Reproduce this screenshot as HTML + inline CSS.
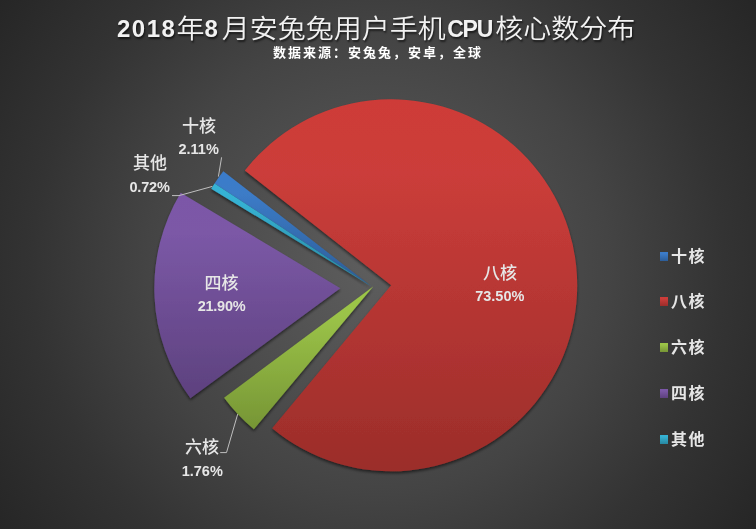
<!DOCTYPE html>
<html><head><meta charset="utf-8">
<style>
html,body{margin:0;padding:0;}
body{width:756px;height:529px;overflow:hidden;position:relative;
 background:radial-gradient(circle farthest-corner at 50% 50%, #5e5e5e 0%, #444444 50%, #333333 75%, #262626 100%);}
svg{position:absolute;left:0;top:0;}
.t{position:absolute;white-space:nowrap;line-height:1;}
.cjk{font-family:"Liberation Sans","Noto Sans CJK SC",sans-serif;}
.title{top:14px;left:117px;color:#f2f2f2;font-size:28px;font-weight:350;text-shadow:1px 2px 2px rgba(0,0,0,.6);}
.title b.d{letter-spacing:1.5px}.title b.e{letter-spacing:4px}.title b.c{margin-left:1.4px;font-size:23px;letter-spacing:-1.2px;margin-right:3px}
.title i{display:inline-block;font-style:normal;transform:translateY(1.8px) scaleY(.92);}
.title b{font-family:"Liberation Sans",sans-serif;font-weight:700;font-size:24px;}
.sub{top:46px;left:273px;color:#fff;font-size:13px;font-weight:700;letter-spacing:2px;}
.lbl{color:#e6e6e6;font-size:17px;font-weight:500;}
.pct{color:#e6e6e6;font-size:14.5px;font-weight:700;font-family:"Liberation Sans",sans-serif;}
.leg{color:#e6e6e6;font-size:16px;font-weight:700;letter-spacing:1.5px;}
.sq{position:absolute;width:8px;height:8.5px;}
</style></head>
<body>
<svg width="756" height="529" viewBox="0 0 756 529">
<defs>
 <filter id="sh" x="-20%" y="-20%" width="140%" height="140%">
  <feGaussianBlur in="SourceAlpha" stdDeviation="1.8"/>
  <feOffset dx="0" dy="2" result="b"/>
  <feComponentTransfer><feFuncA type="linear" slope="0.55"/></feComponentTransfer>
  <feMerge><feMergeNode/><feMergeNode in="SourceGraphic"/></feMerge>
 </filter>
 <linearGradient id="gR" x1="0" y1="0" x2="0" y2="1"><stop offset="0" stop-color="#ce3b37"/><stop offset="0.2" stop-color="#cb3d3a"/><stop offset="1" stop-color="#9b2d2a"/></linearGradient>
 <linearGradient id="gB" x1="0" y1="0" x2="0" y2="1"><stop offset="0" stop-color="#3a7ccb"/><stop offset="0.2" stop-color="#3c7bc7"/><stop offset="1" stop-color="#2c5d98"/></linearGradient>
 <linearGradient id="gG" x1="0" y1="0" x2="0" y2="1"><stop offset="0" stop-color="#9cc746"/><stop offset="0.2" stop-color="#9bc348"/><stop offset="1" stop-color="#769535"/></linearGradient>
 <linearGradient id="gP" x1="0" y1="0" x2="0" y2="1"><stop offset="0" stop-color="#7b57a8"/><stop offset="0.2" stop-color="#7b58a6"/><stop offset="1" stop-color="#5d417e"/></linearGradient>
 <linearGradient id="gC" x1="0" y1="0" x2="0" y2="1"><stop offset="0" stop-color="#34b3d6"/><stop offset="0.2" stop-color="#36b1d2"/><stop offset="1" stop-color="#2787a0"/></linearGradient>
</defs>
<g filter="url(#sh)"><path d="M371.50,286.50 L214.54,183.39 A187.8,187.8 0 0 1 223.31,171.14 Z" fill="url(#gB)"/></g>
<g filter="url(#sh)"><path d="M391.20,285.30 L244.83,170.53 A186,186 0 1 1 272.14,428.20 Z" fill="url(#gR)"/></g>
<g filter="url(#sh)"><path d="M373.20,286.50 L253.89,429.19 A186,186 0 0 1 224.07,397.66 Z" fill="url(#gG)"/></g>
<g filter="url(#sh)"><path d="M340.30,288.15 L190.40,398.26 A186,186 0 0 1 180.70,192.63 Z" fill="url(#gP)"/></g>
<g filter="url(#sh)"><path d="M371.50,286.50 L211.20,188.65 A187.8,187.8 0 0 1 214.54,183.39 Z" fill="url(#gC)"/></g>
<g stroke="#bfbfbf" stroke-width="1" fill="none">
 <polyline points="221.6,157.3 218.4,176.6"/>
 <polyline points="172,195.6 179,195.6 212.4,186.4"/>
 <polyline points="220.2,452.6 226.5,452.6 237.7,414.1"/>
</g>
</svg>
<div class="t cjk title"><b class="d">2018</b><i>年</i><b class="e">8</b><i>月安兔兔用户手机</i><b class="c">CPU</b><i>核心数分布</i></div>
<div class="t cjk sub">数据来源：安兔兔，安卓，全球</div>

<div class="t cjk lbl" style="left:182px;top:117.5px">十核</div>
<div class="t pct" style="left:178.5px;top:142px">2.11%</div>
<div class="t cjk lbl" style="left:133px;top:155px">其他</div>
<div class="t pct" style="left:129.5px;top:180px;letter-spacing:-0.2px">0.72%</div>
<div class="t cjk lbl" style="left:204.5px;top:275px">四核</div>
<div class="t pct" style="left:197.7px;top:298.8px;letter-spacing:-0.25px">21.90%</div>
<div class="t cjk lbl" style="left:483px;top:264.5px">八核</div>
<div class="t pct" style="left:475.2px;top:289px">73.50%</div>
<div class="t cjk lbl" style="left:185px;top:439.3px">六核</div>
<div class="t pct" style="left:181.7px;top:464px">1.76%</div>

<div class="sq" style="left:660px;top:252px;background:linear-gradient(#3a7ccb,#3c7bc7 20%,#2c5d98)"></div>
<div class="t cjk leg" style="left:671px;top:248.6px">十核</div>
<div class="sq" style="left:660px;top:297px;background:linear-gradient(#ce3b37,#cb3d3a 20%,#9b2d2a)"></div>
<div class="t cjk leg" style="left:671px;top:293.6px">八核</div>
<div class="sq" style="left:660px;top:343px;background:linear-gradient(#9cc746,#9bc348 20%,#769535)"></div>
<div class="t cjk leg" style="left:671px;top:339.6px">六核</div>
<div class="sq" style="left:660px;top:389px;background:linear-gradient(#7b57a8,#7b58a6 20%,#5d417e)"></div>
<div class="t cjk leg" style="left:671px;top:385.6px">四核</div>
<div class="sq" style="left:660px;top:435px;background:linear-gradient(#34b3d6,#36b1d2 20%,#2787a0)"></div>
<div class="t cjk leg" style="left:671px;top:431.6px">其他</div>
</body></html>
